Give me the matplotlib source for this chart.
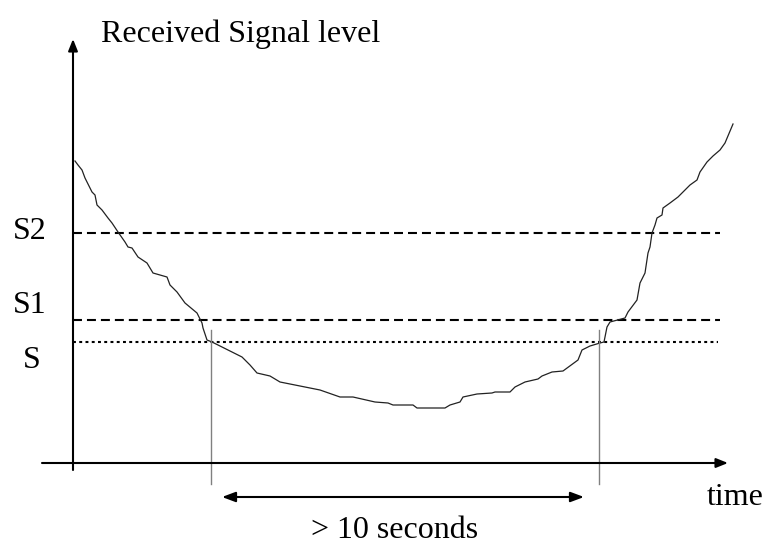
import matplotlib
matplotlib.use("Agg")
import matplotlib.pyplot as plt

# Signal curve (time, level) — origin at axes intersection
time = [2, 5, 9, 12, 19, 22, 24, 29, 35, 39, 45, 52, 55, 59, 65, 74, 80, 94, 97, 104,
        112, 124, 129, 130, 134, 139, 169, 177, 184, 197, 207, 227, 247, 267, 280, 302,
        315, 320, 340, 344, 372, 377, 387, 390, 404, 419, 422, 437, 442, 452, 465, 469,
        479, 490, 505, 509, 517, 527, 531, 534, 537, 552, 555, 564, 567, 572, 575, 577,
        579, 582, 584, 589, 590, 597, 605, 612, 617, 624, 627, 634, 640, 647, 652, 660]
level = [302, 298, 293, 285, 271, 268, 258, 253, 245, 240, 231, 221, 216, 215, 206, 200,
         190, 186, 178, 171, 160, 150, 140, 135, 123, 121, 106, 98, 90, 87, 81, 77, 73,
         66, 66, 61, 60, 58, 58, 55, 55, 58, 61, 66, 69, 70, 71, 71, 76, 81, 84, 87, 91,
         92, 103, 113, 117, 120, 121, 136, 141, 145, 151, 163, 180, 190, 210, 216, 230,
         238, 245, 248, 255, 260, 266, 273, 278, 283, 291, 301, 307, 313, 320, 339]

threshold_names = ["S2", "S1", "S"]
threshold_values = [230, 143, 121]
threshold_styles = ["dashed", "dashed", "dotted"]
cross_times = [138, 526]
span_times = [149, 511]

fig = plt.figure(figsize=(7.66, 5.46), dpi=100)
ax = fig.add_axes([0, 0, 1, 1])
ax.set_xlim(-73, 693)
ax.set_ylim(-83, 463)
ax.axis("off")

serif = ["Liberation Serif", "DejaVu Serif"]

# axes with arrows
ax.annotate("", xy=(655, 0), xytext=(-31, 0),
            arrowprops=dict(arrowstyle="-|>,head_length=0.7,head_width=0.28",
                            lw=1.5, color="black", shrinkA=0, shrinkB=0))
ax.annotate("", xy=(0, 424), xytext=(0, -7),
            arrowprops=dict(arrowstyle="-|>,head_length=0.7,head_width=0.28",
                            lw=1.5, color="black", shrinkA=0, shrinkB=0))

# thresholds
label_pos = {"S2": (-60, 224), "S1": (-60, 150), "S": (-50, 95)}
for name, val, style in zip(threshold_names, threshold_values, threshold_styles):
    if style == "dashed":
        ax.plot([0, 647], [val, val], color="black", lw=1.5, linestyle=(0, (4.3, 2.4)))
    else:
        ax.plot([0, 645], [val, val], color="black", lw=1.5, linestyle=(0, (1.4, 1.6)))
    lx, ly = label_pos[name]
    ax.text(lx, ly, name, fontsize=23, family=serif, ha="left", va="baseline")

# signal
ax.plot(time, level, color="#222222", lw=0.9)

# crossing markers
for t in cross_times:
    ax.plot([t, t], [133, -21], color="#808080", lw=1.0)

# duration arrow
ax.annotate("", xy=(span_times[1], -34), xytext=(span_times[0], -34),
            arrowprops=dict(arrowstyle="<|-|>,head_length=0.8,head_width=0.3",
                            lw=1.5, color="black", shrinkA=0, shrinkB=0))

ax.text(28, 421, "Received Signal level", fontsize=23, family=serif, ha="left", va="baseline")
ax.text(634, -42, "time", fontsize=23, family=serif, ha="left", va="baseline")
ax.text(322, -75, "> 10 seconds", fontsize=23, family=serif, ha="center", va="baseline")

fig.savefig("out.png", dpi=100)
